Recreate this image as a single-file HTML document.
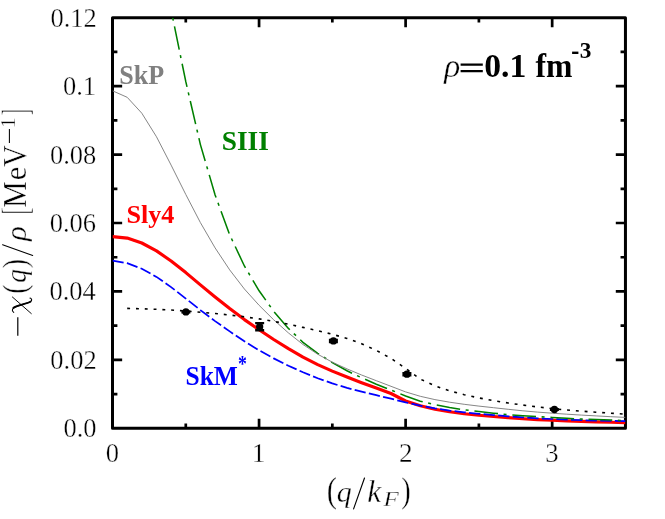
<!DOCTYPE html>
<html><head><meta charset="utf-8"><title>chi(q)/rho</title>
<style>html,body{margin:0;padding:0;background:#fff;}svg{display:block;}text{font-family:"Liberation Serif",serif;}svg{will-change:transform;}</style></head><body>
<svg width="665" height="519" viewBox="0 0 665 519">
<rect x="0" y="0" width="665" height="519" fill="#fff"/>
<defs><clipPath id="c"><rect x="112.5" y="17.7" width="512.95" height="410.65"/></clipPath></defs>
<rect x="112.5" y="17.7" width="512.95" height="410.65" fill="none" stroke="#000" stroke-width="3" stroke-linejoin="round"/>
<path d="M185.78 428.35v-4.9M185.78 17.7v4.9M259.06 428.35v-9.65M259.06 17.7v9.65M332.34 428.35v-4.9M332.34 17.7v4.9M405.61 428.35v-9.65M405.61 17.7v9.65M478.89 428.35v-4.9M478.89 17.7v4.9M552.17 428.35v-9.65M552.17 17.7v9.65M112.5 394.13h4.9M625.45 394.13h-4.9M112.5 359.91h9.65M625.45 359.91h-9.65M112.5 325.69h4.9M625.45 325.69h-4.9M112.5 291.47h9.65M625.45 291.47h-9.65M112.5 257.25h4.9M625.45 257.25h-4.9M112.5 223.02h9.65M625.45 223.02h-9.65M112.5 188.80h4.9M625.45 188.80h-4.9M112.5 154.58h9.65M625.45 154.58h-9.65M112.5 120.36h4.9M625.45 120.36h-4.9M112.5 86.14h9.65M625.45 86.14h-9.65M112.5 51.92h4.9M625.45 51.92h-4.9" stroke="#000" stroke-width="2.7" fill="none"/>
<g clip-path="url(#c)" fill="none">
<polyline stroke="#ff0000" stroke-width="3.15" stroke-linejoin="round" points="112.5,236.6 127.2,238.1 141.8,243.0 156.5,250.9 171.1,261.0 185.8,272.6 200.4,284.9 215.1,297.0 229.7,308.6 244.4,319.6 259.1,329.8 273.7,339.5 288.4,348.7 303.0,357.2 317.7,364.6 332.3,371.1 347.0,377.0 361.6,382.7 376.3,388.1 391.0,393.5 405.6,401.0 420.3,405.8 434.9,409.2 449.6,411.8 464.2,413.7 478.9,415.2 493.5,416.5 508.2,417.6 522.9,418.7 537.5,419.6 552.2,420.3 566.8,420.9 581.5,421.4 596.1,421.9 610.8,422.3 625.5,422.7"/>
<polyline stroke="#0000ff" stroke-width="1.75" stroke-dasharray="11.3 3.3" points="112.5,260.6 127.2,263.2 141.8,268.7 156.5,276.9 171.1,287.1 185.8,298.6 200.4,310.1 215.1,321.1 229.7,331.4 244.4,341.3 259.1,350.3 273.7,358.4 288.4,365.7 303.0,372.3 317.7,378.2 332.3,383.4 347.0,387.9 361.6,391.7 376.3,395.2 391.0,398.7 405.6,402.4 420.3,405.7 434.9,408.4 449.6,410.6 464.2,412.3 478.9,413.8 493.5,415.1 508.2,416.3 522.9,417.4 537.5,418.3 552.2,419.0 566.8,419.7 581.5,420.2 596.1,420.6 610.8,420.9 625.5,421.2"/>
<polyline stroke="#008000" stroke-width="1.55" stroke-dasharray="23.7 5.6 3 5.85" stroke-dashoffset="29.3" points="172.7,17.7 185.8,81.7 200.4,144.6 215.1,194.9 229.7,234.8 244.4,266.0 259.1,290.8 273.7,311.3 288.4,328.4 303.0,342.3 317.7,353.3 332.3,362.6 347.0,370.8 361.6,377.8 376.3,384.2 391.0,390.0 405.6,396.0 420.3,401.2 434.9,404.7 449.6,407.5 464.2,409.8 478.9,411.6 493.5,413.2 508.2,414.6 522.9,415.7 537.5,416.6 552.2,417.5 566.8,418.3 581.5,419.1 596.1,419.6 610.8,420.1 625.5,420.6"/>
<polyline stroke="#808080" stroke-width="0.95" points="112.5,90.8 127.2,97.3 141.8,113.2 156.5,136.8 171.1,165.1 185.8,194.5 200.4,222.6 215.1,247.9 229.7,269.9 244.4,289.0 259.1,305.3 273.7,319.8 288.4,332.9 303.0,344.5 317.7,354.2 332.3,362.2 347.0,368.9 361.6,375.0 376.3,380.7 391.0,386.3 405.6,391.9 420.3,396.3 434.9,399.6 449.6,402.2 464.2,404.3 478.9,406.1 493.5,407.7 508.2,409.3 522.9,410.8 537.5,412.1 552.2,413.2 566.8,414.2 581.5,415.1 596.1,415.9 610.8,416.7 625.5,417.4"/>
<polyline stroke="#000" stroke-width="1.6" stroke-dasharray="2.9 5.9" points="127.2,308.4 141.8,308.8 156.5,309.3 171.1,310.0 185.8,311.0 200.4,312.2 215.1,313.5 229.7,315.0 244.4,316.8 259.1,318.9 273.7,321.4 288.4,324.2 303.0,327.4 317.7,330.7 332.3,334.3 347.0,338.4 361.6,343.7 376.3,350.4 391.0,358.4 405.6,368.4 420.3,379.1 434.9,385.8 449.6,390.9 464.2,394.7 478.9,397.9 493.5,400.7 508.2,403.0 522.9,405.1 537.5,406.9 552.2,408.6 566.8,410.0 581.5,411.2 596.1,412.2 610.8,413.2 625.5,414.2"/>
</g>
<circle cx="185.9" cy="311.95" r="3.65" fill="#000"/>
<path d="M181.40 311.55h9M181.40 312.35h9" stroke="#000" stroke-width="2.3" fill="none"/>
<circle cx="259.66" cy="326.7" r="3.65" fill="#000"/>
<path d="M255.16 323.15h9M255.16 330.25h9" stroke="#000" stroke-width="2.3" fill="none"/>
<circle cx="333.4" cy="340.95" r="3.65" fill="#000"/>
<path d="M328.90 339.85h9M328.90 342.05h9" stroke="#000" stroke-width="2.3" fill="none"/>
<circle cx="406.9" cy="374.2" r="3.65" fill="#000"/>
<path d="M402.40 373.15h9M402.40 375.25h9" stroke="#000" stroke-width="2.3" fill="none"/>
<circle cx="554.4" cy="409.5" r="3.65" fill="#000"/>
<path d="M549.90 409.20h9M549.90 409.80h9" stroke="#000" stroke-width="2.3" fill="none"/>
<text transform="matrix(0.2647 0 0 0.2647 63.47 437.35)" font-size="100" stroke="#fff" stroke-width="1.28">0.0</text>
<text transform="matrix(0.2647 0 0 0.2647 50.33 368.91)" font-size="100" stroke="#fff" stroke-width="1.28">0.02</text>
<text transform="matrix(0.2647 0 0 0.2647 49.47 300.47)" font-size="100" stroke="#fff" stroke-width="1.28">0.04</text>
<text transform="matrix(0.2647 0 0 0.2647 49.67 232.03)" font-size="100" stroke="#fff" stroke-width="1.28">0.06</text>
<text transform="matrix(0.2647 0 0 0.2647 49.94 163.59)" font-size="100" stroke="#fff" stroke-width="1.28">0.08</text>
<text transform="matrix(0.2647 0 0 0.2647 63.00 95.14)" font-size="100" stroke="#fff" stroke-width="1.28">0.1</text>
<text transform="matrix(0.2647 0 0 0.2647 50.43 26.70)" font-size="100" stroke="#fff" stroke-width="1.28">0.12</text>
<text transform="matrix(0.2652 0 0 0.2652 105.87 461.83)" font-size="100" stroke="#fff" stroke-width="1.28">0</text>
<text transform="matrix(0.2733 0 0 0.2733 251.82 462.10)" font-size="100" stroke="#fff" stroke-width="1.24">1</text>
<text transform="matrix(0.2712 0 0 0.2712 398.97 462.10)" font-size="100" stroke="#fff" stroke-width="1.25">2</text>
<text transform="matrix(0.2672 0 0 0.2672 545.36 461.83)" font-size="100" stroke="#fff" stroke-width="1.27">3</text>
<text transform="matrix(0.2604 0 0 0.2657 119.37 83.93)" font-size="100" font-weight="bold" fill="#808080">SkP</text>
<text transform="matrix(0.2728 0 0 0.2746 221.80 149.63)" font-size="100" font-weight="bold" fill="#008000">SIII</text>
<text transform="matrix(0.2614 0 0 0.2567 126.46 222.81)" font-size="100" font-weight="bold" fill="#ff0000">Sly4</text>
<text transform="matrix(0.2547 0 0 0.2686 185.50 384.53)" font-size="100" font-weight="bold" fill="#0000ff">SkM</text>
<text transform="matrix(0.1780 0 0 0.2240 238.00 371.07)" font-size="100" font-weight="bold" fill="#0000ff">*</text>
<text transform="matrix(0.3326 0 0 0.3309 444.13 76.65)" font-size="100" font-style="italic" stroke="#fff" stroke-width="1.03">ρ</text>
<path d="M460.6 64.65h22.2M460.6 71.15h22.2" stroke="#000" stroke-width="2.2"/>
<text transform="matrix(0.3371 0 0 0.3279 484.25 76.71)" font-size="100" font-weight="bold">0.1</text>
<text transform="matrix(0.3170 0 0 0.3371 535.44 76.60)" font-size="100" font-weight="bold">fm</text>
<path d="M572.1 52.8h6.3" stroke="#000" stroke-width="2.4"/>
<text transform="matrix(0.2329 0 0 0.2328 579.87 58.27)" font-size="100" font-weight="bold">3</text>
<text transform="matrix(0.3059 0 0 0.3511 326.72 502.03)" font-size="100" stroke="#fff" stroke-width="1.11">(</text>
<text transform="matrix(0.3000 0 0 0.3029 336.75 501.64)" font-size="100" font-style="italic" stroke="#fff" stroke-width="1.13">q</text>
<path d="M353.6 508.9L364.5 478.0" stroke="#000" stroke-width="1.15" stroke-linecap="round"/>
<text transform="matrix(0.3140 0 0 0.3130 367.26 501.50)" font-size="100" font-style="italic" stroke="#fff" stroke-width="1.09">k</text>
<text transform="matrix(0.2496 0 0 0.2169 383.52 506.01)" font-size="100" font-style="italic" stroke="#fff" stroke-width="1.57">F</text>
<text transform="matrix(0.2846 0 0 0.3511 401.15 502.03)" font-size="100" stroke="#fff" stroke-width="1.19">)</text>
<text transform="matrix(0 -0.2044 0.3745 0 28.04 115.42)" font-size="100" stroke="#fff" stroke-width="1.66">]</text>
<text transform="matrix(0 -0.2114 0.2122 0 14.90 127.90)" font-size="100" stroke="#fff" stroke-width="1.61">1</text>
<path d="M9.4 129.1V142.9" stroke="#000" stroke-width="1.05"/>
<text transform="matrix(0 -0.2986 0.3278 0 25.51 166.80)" font-size="100" stroke="#fff" stroke-width="1.14">V</text>
<text transform="matrix(0 -0.3054 0.3083 0 25.89 180.32)" font-size="100" stroke="#fff" stroke-width="1.11">e</text>
<text transform="matrix(0 -0.3000 0.3292 0 25.80 207.80)" font-size="100" stroke="#fff" stroke-width="1.13">M</text>
<text transform="matrix(0 -0.2000 0.3758 0 28.23 214.60)" font-size="100" stroke="#fff" stroke-width="1.70">[</text>
<text transform="matrix(0 -0.3116 0.2956 0 25.89 241.12)" font-size="100" font-style="italic" stroke="#fff" stroke-width="1.15">ρ</text>
<path d="M32.7 255.4L2.6 244.7" stroke="#000" stroke-width="1.1" stroke-linecap="round"/>
<text transform="matrix(0 -0.2654 0.3411 0 25.84 268.00)" font-size="100" stroke="#fff" stroke-width="1.28">)</text>
<text transform="matrix(0 -0.2727 0.2853 0 25.51 282.75)" font-size="100" font-style="italic" stroke="#fff" stroke-width="1.25">q</text>
<text transform="matrix(0 -0.2745 0.3411 0 25.84 293.84)" font-size="100" stroke="#fff" stroke-width="1.24">(</text>
<g fill="none" stroke="#000" stroke-linecap="round"><path d="M12.4 297.0L31.3 313.6" stroke-width="0.95"/><path d="M13.7 312.4C12.7 311.8 12.0 310.6 12.5 309.4C13.4 307.2 17.5 305.9 21.8 304.6C26.2 303.3 30.6 302.6 31.5 300.6C32.0 299.4 31.2 298.5 30.0 298.1" stroke-width="1.1"/><path d="M13.4 307.7C15.6 306.4 18.8 305.5 21.8 304.6C24.9 303.7 28.4 303.0 30.5 301.8" stroke-width="1.8"/></g>
<path d="M17.8 317.3V335.7" stroke="#000" stroke-width="1.2"/>
</svg></body></html>
